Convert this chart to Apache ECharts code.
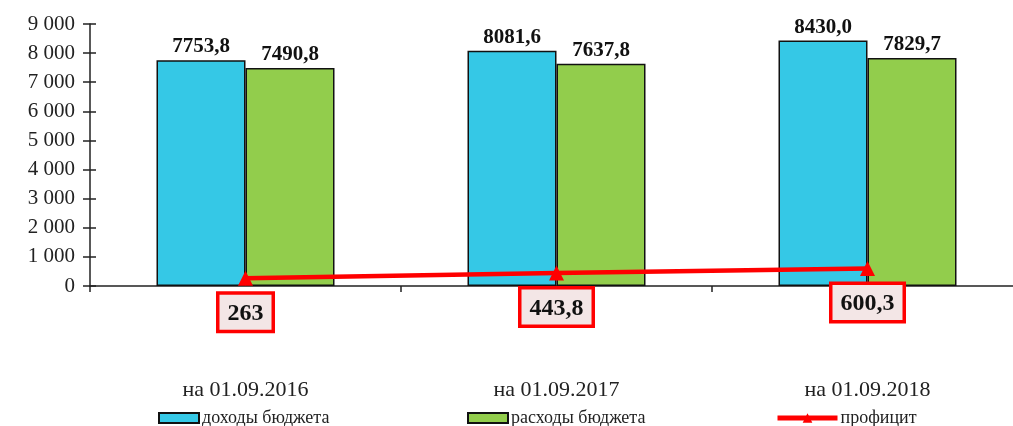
<!DOCTYPE html>
<html><head><meta charset="utf-8">
<script src="https://cdn.jsdelivr.net/npm/echarts@6/dist/echarts.min.js"></script>
<style>html,body{margin:0;padding:0;background:#fff}#c{width:1013px;height:426px}</style>
</head><body><div id="c"></div>
<script>
const categories = ['на 01.09.2016', 'на 01.09.2017', 'на 01.09.2018'];
const income = [7753.8, 8081.6, 8430.0];
const expenses = [7490.8, 7637.8, 7829.7];
const surplus = [263, 443.8, 600.3];
const incomeLabels = ['7753,8', '8081,6', '8430,0'];
const expenseLabels = ['7490,8', '7637,8', '7829,7'];
const surplusLabels = ['263', '443,8', '600,3'];
const seriesNames = ['доходы бюджета', 'расходы бюджета', 'профицит'];

const FONT = "'Liberation Serif','Times New Roman',serif";
const chart = echarts.init(document.getElementById('c'));
const fmt = v => { const s = String(v); return s.length > 3 ? s.slice(0, s.length-3) + ' ' + s.slice(-3) : s; };
const legendText = {fontFamily: FONT, fontSize: 18, color: '#222', padding: [0, 0, 0, -2]};
chart.setOption({
  animation: false,
  grid: {left: 90, top: 24, width: 933, height: 262, outerBoundsMode: 'none', containLabel: false},
  xAxis: {
    type: 'category', data: categories,
    axisLine: {lineStyle: {color: '#222', width: 1.5}},
    axisTick: {show: true, length: 6, lineStyle: {color: '#222', width: 1.5}},
    axisLabel: {margin: 93, fontFamily: FONT, fontSize: 22, color: '#222'}
  },
  yAxis: [{
    type: 'value', min: 0, max: 9000, interval: 1000,
    axisLine: {show: true, lineStyle: {color: '#222', width: 1.5}},
    axisTick: {show: true, length: 7, lineStyle: {color: '#222', width: 1.5}},
    splitLine: {show: false},
    axisLabel: {margin: 15, fontFamily: FONT, fontSize: 21, color: '#222', formatter: fmt}
  }, {
    type: 'value', min: 0, max: 9000, interval: 1000, position: 'left',
    axisLine: {show: false},
    axisTick: {show: true, inside: true, length: 6, lineStyle: {color: '#222', width: 1.5}},
    splitLine: {show: false}, axisLabel: {show: false}
  }],
  legend: [
    {data: [{name: seriesNames[0], icon: 'rect'}], left: 153, top: 404, itemWidth: 40, itemHeight: 10, textStyle: legendText},
    {data: [{name: seriesNames[1], icon: 'rect'}], left: 462, top: 404, itemWidth: 40, itemHeight: 10, textStyle: legendText},
    {data: [seriesNames[2]], left: 770, top: 404, itemWidth: 60, itemHeight: 12, lineStyle: {width: 5}, textStyle: legendText}
  ],
  series: [{
    name: seriesNames[0], type: 'bar', data: income, barWidth: 89, barGap: '0%',
    itemStyle: {color: '#35C8E6', borderColor: '#111', borderWidth: 1.5},
    label: {show: true, position: 'top', distance: 3, fontFamily: FONT, fontSize: 21, fontWeight: 'bold', color: '#111',
      formatter: p => incomeLabels[p.dataIndex]}
  }, {
    name: seriesNames[1], type: 'bar', data: expenses, barWidth: 89,
    itemStyle: {color: '#92CD4C', borderColor: '#111', borderWidth: 1.5},
    label: {show: true, position: 'top', distance: 3, fontFamily: FONT, fontSize: 21, fontWeight: 'bold', color: '#111',
      formatter: p => expenseLabels[p.dataIndex]}
  }, {
    name: seriesNames[2], type: 'line', data: surplus, z: 5,
    symbol: 'triangle', symbolSize: 15,
    lineStyle: {color: '#FF0000', width: 4.5}, itemStyle: {color: '#FF0000'},
    label: {show: true, position: 'bottom', distance: 9, fontFamily: FONT, fontSize: 24, fontWeight: 'bold', color: '#111',
      backgroundColor: '#F3E6E6', borderColor: '#FF0000', borderWidth: 3.5, padding: [7, 8, 4, 8],
      formatter: p => surplusLabels[p.dataIndex]}
  }]
});
</script></body></html>
